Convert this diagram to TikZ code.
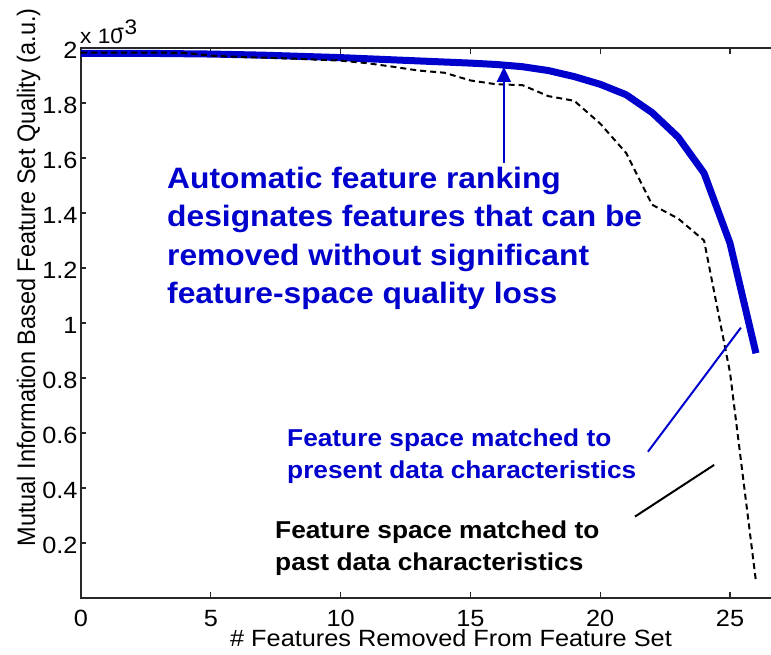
\documentclass[tikz,border=0pt]{standalone}
\usepackage{fontspec}
\setmainfont{Liberation Sans}
\usetikzlibrary{arrows.meta}
\definecolor{PlotBlue}{RGB}{ 0, 0, 205}
\definecolor{AxisGray}{RGB}{ 40, 40, 40}

\begin{document}
\begin{tikzpicture}[x=1pt, y=1pt]
      \tikzstyle{axis}=[AxisGray, line width=1.1pt];
      \tikzstyle{wide}=[inner sep=0pt, xscale=1.077, transform shape];
      \tikzstyle{ticklabel}=[wide, font=\fontsize{23.5}{28}\selectfont];
      \tikzstyle{present}=[PlotBlue, line width=7pt, line join=round];
      \tikzstyle{past}=[black, line width=2pt, dash pattern=on 6pt off 4pt];
      \tikzstyle{pointer}=[line width=2pt];
      \tikzstyle{note}=[wide, align=left, font=\bfseries\fontsize{24.4}{32}\selectfont];

      \clip (0,0) rectangle (771,655);

      \begin{scope}[shift={(81,57)}, x=25.96pt, y=275pt]
        % frame and ticks
        \draw[axis] (26.7,2) -- (0,2) -- (0,0) -- (26.7,0);
        \foreach \k in {0,5,...,25} {
          \draw[axis] (\k,0) -- ++(0,6pt);
          \draw[axis] (\k,2) -- ++(0,-6pt);
          \node[ticklabel, anchor=base, yshift=-29pt] (xt\k) at (\k,0) {\k};
        }
        \foreach \v in {0.2,0.4,0.6,0.8,1,1.2,1.4,1.6,1.8,2} {
          \draw[axis] (0,\v) -- ++(5pt,0);
          \node[ticklabel, anchor=base east, xshift=-3pt, yshift=-11pt] (yt\v) at (0,\v) {\v};
        }

        % quality curves
        \draw[present] plot coordinates {(0,1.98) (1,1.98) (2,1.98) (3,1.98) (4,1.979)
          (5,1.978) (6,1.976) (7,1.974) (8,1.971) (9,1.968) (10,1.965) (11,1.961)
          (12,1.957) (13,1.953) (14,1.949) (15,1.945) (16,1.94) (17,1.932) (18,1.918)
          (19,1.896) (20,1.868) (21,1.83) (22,1.765) (23,1.676) (24,1.545) (25,1.29)
          (26,0.89)};
        \draw[past] plot coordinates {(0,1.983) (1,1.983) (2,1.983) (3,1.983) (4,1.982)
          (5,1.972) (6,1.968) (7,1.965) (8,1.962) (9,1.958) (10,1.954) (11,1.945)
          (12,1.932) (13,1.918) (14,1.91) (15,1.882) (16,1.868) (17,1.865) (18,1.825)
          (19,1.808) (20,1.725) (21,1.618) (22,1.43) (23,1.38) (24,1.30) (25,0.82)
          (26,0.06)};

        \coordinate (tip) at (16.29,1.931);
        \coordinate (foot) at (16.29,1.582);
        \coordinate (pa) at (21.84,0.532);
        \coordinate (pb) at (25.42,0.983);
        \coordinate (qa) at (21.34,0.296);
        \coordinate (qb) at (24.39,0.484);
      \end{scope}

      % labels (base anchor sits on the last line)
      \node[ticklabel, anchor=base] (xlab) at (451,8) {\# Features Removed From Feature Set};
      \node[inner sep=0pt, font=\fontsize{23.5}{28}\selectfont, anchor=base,
        xscale=1.077, rotate=90, transform shape] (ylab) at (35,377.6)
        {Mutual Information Based Feature Set Quality (a.u.)};
      \node[wide, anchor=base west, font=\fontsize{21}{25}\selectfont] (mult) at (80,611) {x 10};
      \node[wide, anchor=base west, font=\fontsize{21}{25}\selectfont] (expo) at (117,620) {-3};

      \node[note, PlotBlue, anchor=base west, font=\bfseries\fontsize{29.5}{38.5}\selectfont]
        (ranking) at (167,351.2) {Automatic feature ranking\\designates features that can be\\removed without significant\\feature-space quality loss};
      \node[note, PlotBlue, anchor=base west] (now) at (287,176.3) {Feature space matched to\\present data characteristics};
      \node[note, anchor=base west] (old) at (275,84.7) {Feature space matched to\\past data characteristics};

      \draw[pointer, PlotBlue, -{Triangle[length=15pt, width=14pt]}] (foot) -- (tip);
      \draw[pointer, PlotBlue] (pa) -- (pb);
      \draw[pointer, black] (qa) -- (qb);
\end{tikzpicture}
\end{document}
